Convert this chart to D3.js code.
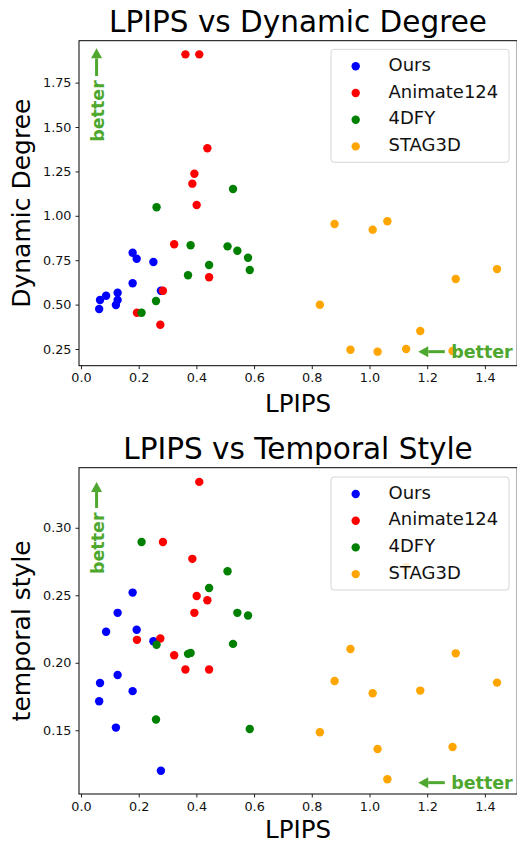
<!DOCTYPE html>
<html>
<head>
<meta charset="utf-8">
<script src="https://cdn.jsdelivr.net/npm/d3@7"></script>
<style>
  body { margin: 0; background: #fff; }
  svg { display: block; font-family: "DejaVu Sans", sans-serif; }
</style>
</head>
<body>
<div id="chart"></div>
<script>
// methods and their colours
var methods = ['Ours', 'Animate124', '4DFY', 'STAG3D'];
var methodColors = ['#0000ff', '#ff0000', '#008000', '#ffa500'];

// LPIPS per sample (x in both panels)
var oursLpips = [0.063, 0.066, 0.087, 0.121, 0.127, 0.127, 0.179, 0.179, 0.193, 0.251, 0.277];
var animLpips = [0.362, 0.410, 0.438, 0.393, 0.386, 0.401, 0.323, 0.444, 0.284, 0.194, 0.275];
var fdfyLpips = [0.527, 0.262, 0.380, 0.508, 0.542, 0.579, 0.585, 0.444, 0.371, 0.260, 0.210];
var stagLpips = [0.879, 1.011, 1.062, 1.442, 1.299, 0.828, 1.176, 0.934, 1.028, 1.127, 1.288];

// dynamic degree
var oursDynamic = [0.475, 0.526, 0.550, 0.498, 0.567, 0.526, 0.792, 0.620, 0.758, 0.740, 0.578];
var animDynamic = [1.909, 1.909, 1.380, 1.237, 1.181, 1.061, 0.840, 0.654, 0.578, 0.454, 0.387];
var fdfyDynamic = [1.151, 1.048, 0.834, 0.828, 0.803, 0.764, 0.695, 0.723, 0.665, 0.520, 0.454];
var stagDynamic = [0.954, 0.922, 0.969, 0.700, 0.644, 0.499, 0.351, 0.246, 0.235, 0.250, 0.239];

// temporal style
var oursTemporal = [0.1715, 0.185, 0.223, 0.152, 0.237, 0.191, 0.252, 0.179, 0.2245, 0.216, 0.120];
var animTemporal = [0.195, 0.334, 0.2463, 0.237, 0.277, 0.2495, 0.2056, 0.195, 0.2895, 0.217, 0.218];
var fdfyTemporal = [0.214, 0.2134, 0.2073, 0.2678, 0.237, 0.235, 0.151, 0.2554, 0.2066, 0.158, 0.2895];
var stagTemporal = [0.1865, 0.1774, 0.1137, 0.1853, 0.207, 0.1485, 0.1794, 0.2102, 0.1361, 0.271, 0.1376];

var xTicks = [0.0, 0.2, 0.4, 0.6, 0.8, 1.0, 1.2, 1.4];
var dynamicTicks = [0.25, 0.50, 0.75, 1.00, 1.25, 1.50, 1.75];
var temporalTicks = [0.15, 0.20, 0.25, 0.30];

var lpipsAll = [oursLpips, animLpips, fdfyLpips, stagLpips];

var width = 517, height = 841;
var svg = d3.select('#chart').append('svg')
  .attr('width', width)
  .attr('height', height);

var green = '#4ea72e';

function drawPanel(p) {
  var x = d3.scaleLinear().domain([-0.0069, 1.512]).range([79, 517.2]);
  var y = d3.scaleLinear().domain(p.yDomain).range([p.bottom, p.top]);
  var g = svg.append('g');

  // points, one series after another
  p.values.forEach(function (vals, k) {
    var rows = vals.map(function (v, i) { return {x: lpipsAll[k][i], y: v}; });
    g.selectAll('.dot' + k)
      .data(rows)
      .enter()
      .append('circle')
      .attr('cx', function (d) { return x(d.x); })
      .attr('cy', function (d) { return y(d.y); })
      .attr('r', 4.2)
      .style('fill', methodColors[k]);
  });

  // frame (top + left + bottom, right falls off the picture)
  g.append('rect')
    .attr('x', x.range()[0]).attr('y', p.top)
    .attr('width', x.range()[1] - x.range()[0])
    .attr('height', p.bottom - p.top)
    .style('fill', 'none').style('stroke', '#000').style('stroke-width', 1);

  var xAxis = g.append('g')
    .attr('transform', 'translate(0,' + p.bottom + ')')
    .call(d3.axisBottom(x).tickValues(xTicks).tickFormat(d3.format('.1f')).tickSizeOuter(0).tickSize(3.5).tickPadding(4));
  var yAxis = g.append('g')
    .attr('transform', 'translate(' + x.range()[0] + ',0)')
    .call(d3.axisLeft(y).tickValues(p.yTicks).tickFormat(d3.format('.2f')).tickSizeOuter(0).tickSize(3.5).tickPadding(4));
  [xAxis, yAxis].forEach(function (a) {
    a.select('.domain').remove();
    a.selectAll('text').style('font-size', '12.8px').style('fill', '#111').style('font-family', '"DejaVu Sans"');
    a.selectAll('line').style('stroke', '#222');
  });

  // title and labels
  g.append('text')
    .attr('x', 298).attr('y', p.top - 8.5)
    .style('text-anchor', 'middle').style('font-size', '29.5px')
    .text(p.title);
  g.append('text')
    .attr('x', 298).attr('y', p.bottom + p.xLabelGap)
    .style('text-anchor', 'middle').style('font-size', '24.5px')
    .text('LPIPS');
  g.append('text')
    .attr('transform', 'translate(29.5,' + (p.top + p.bottom) / 2 + ') rotate(-90)')
    .style('text-anchor', 'middle').style('font-size', '25px')
    .text(p.yLabel);

  // "better" arrows
  function arrow(x1, y1, x2, y2) {
    var dx = x2 - x1, dy = y2 - y1, len = Math.sqrt(dx * dx + dy * dy);
    var ux = dx / len, uy = dy / len, head = 10, hw = 5.5;
    var bx = x2 - ux * head, by = y2 - uy * head;
    g.append('line')
      .attr('x1', x1).attr('y1', y1).attr('x2', bx).attr('y2', by)
      .style('stroke', green).style('stroke-width', 3);
    g.append('path')
      .attr('d', 'M' + x2 + ',' + y2 + 'L' + (bx - uy * hw) + ',' + (by + ux * hw) + 'L' + (bx + uy * hw) + ',' + (by - ux * hw) + 'Z')
      .style('fill', green);
  }
  var a = p.upArrow;
  arrow(x(a.x), y(a.tail), x(a.x), y(a.tip));
  g.append('text')
    .attr('transform', 'translate(' + (x(a.x) + 1.5) + ',' + y(a.text) + ') rotate(-90)')
    .attr('dy', '0.36em')
    .style('text-anchor', 'middle').style('font-size', '17.5px').style('font-weight', 'bold')
    .style('fill', green)
    .text('better');
  var b = p.leftArrow;
  arrow(x(b.tail), y(b.y), x(b.tip), y(b.y));
  g.append('text')
    .attr('x', x(b.text)).attr('y', y(b.y))
    .attr('dy', '0.36em')
    .style('font-size', '17.5px').style('font-weight', 'bold')
    .style('fill', green)
    .text('better');

  // legend
  var lg = g.append('g').attr('transform', 'translate(331,' + p.legendTop + ')');
  lg.append('rect')
    .attr('width', 178).attr('height', 113).attr('rx', 3)
    .style('fill', '#fff').style('fill-opacity', 0.8)
    .style('stroke', '#d6d6d6').style('stroke-width', 1);
  methods.forEach(function (m, i) {
    var cy = 17 + i * 26.7;
    lg.append('circle').attr('cx', 24.7).attr('cy', cy).attr('r', 4.2).style('fill', methodColors[i]);
    lg.append('text').attr('x', 57.5).attr('y', cy + 4.6)
      .style('font-size', '18px').style('fill', '#111').text(m);
  });
}

drawPanel({
  title: 'LPIPS vs Dynamic Degree',
  yLabel: 'Dynamic Degree',
  top: 40.7, bottom: 365.7,
  yDomain: [0.156, 1.986],
  yTicks: dynamicTicks,
  values: [oursDynamic, animDynamic, fdfyDynamic, stagDynamic],
  upArrow: {x: 0.054, tip: 1.943, tail: 1.787, text: 1.59},
  leftArrow: {y: 0.235, tip: 1.169, tail: 1.261, text: 1.283},
  legendTop: 49.3,
  xLabelGap: 46
});

drawPanel({
  title: 'LPIPS vs Temporal Style',
  yLabel: 'temporal style',
  top: 467.7, bottom: 794,
  yDomain: [0.1028, 0.3445],
  yTicks: temporalTicks,
  values: [oursTemporal, animTemporal, fdfyTemporal, stagTemporal],
  upArrow: {x: 0.054, tip: 0.334, tail: 0.3147, text: 0.2885},
  leftArrow: {y: 0.1112, tip: 1.169, tail: 1.261, text: 1.283},
  legendTop: 477,
  xLabelGap: 44
});
</script>
</body>
</html>
